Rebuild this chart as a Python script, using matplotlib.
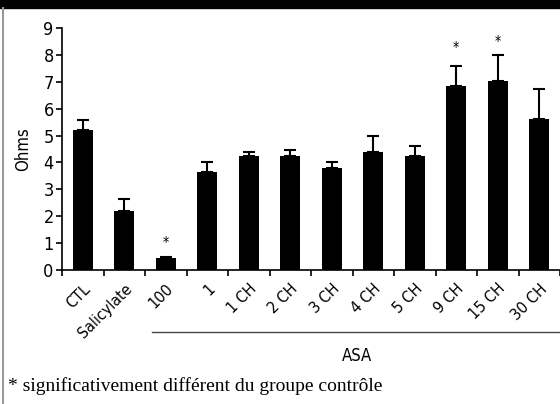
import numpy as np
import matplotlib
matplotlib.use("Agg")
import matplotlib.pyplot as plt
from matplotlib.patches import Rectangle

plt.rcParams['font.family'] = ['DejaVu Sans']
plt.rcParams['font.stretch'] = 'condensed'

# groups and values
groups = ["CTL", "Salicylate", "100", "1", "1 CH", "2 CH", "3 CH",
          "4 CH", "5 CH", "9 CH", "15 CH", "30 CH"]
ohms = [5.2, 2.2, 0.45, 3.65, 4.25, 4.25, 3.8, 4.4, 4.25, 6.85, 7.03, 5.6]
sem = [0.38, 0.43, 0.03, 0.35, 0.15, 0.2, 0.2, 0.6, 0.35, 0.75, 0.95, 1.15]
star_groups = ["100", "9 CH", "15 CH"]
star_y = [1.05, 8.3, 8.5]
yticks = list(range(0, 10))

fig = plt.figure(figsize=(5.6, 4.04), dpi=100)

# black band at the top (cropped title) and left border of the scan
fig.patches.append(Rectangle((0, 1 - 8 / 404), 1, 8 / 404, transform=fig.transFigure,
                             color="black", zorder=0))
fig.add_artist(plt.Line2D([3 / 560, 3 / 560], [0, 1 - 8 / 404], transform=fig.transFigure,
                          color="#999999", lw=1.5))

ax = fig.add_axes([62 / 560, 1 - 270 / 404, 1 - 62 / 560, (270 - 28) / 404])
x = np.arange(len(groups))
ax.bar(x, ohms, width=0.48, color="black", zorder=2)
ax.errorbar(x, ohms, yerr=[np.zeros(len(sem)), sem], fmt="none", ecolor="black",
            elinewidth=1.5, capsize=4, capthick=1.5, zorder=1)

for g, sy in zip(star_groups, star_y):
    ax.text(groups.index(g), sy, "*", ha="center", va="center", fontsize=10)

ax.set_xlim(-0.5, 11.44)
ax.set_ylim(0, 9)
ax.set_yticks(yticks)
ax.tick_params(axis="y", labelsize=13, length=4, width=1.2, direction="out", pad=2)
ax.set_xticks(x)
ax.set_xticklabels(groups, rotation=45, ha="right", rotation_mode="anchor", fontsize=11.5)
ax.tick_params(axis="x", which="major", length=0, pad=8)
ax.set_xticks(np.arange(len(groups) + 1) - 0.5, minor=True)
ax.tick_params(axis="x", which="minor", length=4, width=1.2, direction="out")
for s in ["top", "right"]:
    ax.spines[s].set_visible(False)
for s in ["left", "bottom"]:
    ax.spines[s].set_linewidth(1.2)
ax.set_ylabel("Ohms", fontsize=12, labelpad=8)

# ASA bracket line and label
fig.add_artist(plt.Line2D([152 / 560, 1], [1 - 332 / 404, 1 - 332 / 404],
                          transform=fig.transFigure, color="#444444", lw=1))
fig.text(357 / 560, 1 - 356 / 404, "ASA", ha="center", va="center", fontsize=12)

fig.text(8 / 560, 1 - 386 / 404, "* significativement différent du groupe contrôle",
         ha="left", va="center", fontsize=14, family="Liberation Serif", stretch="normal")

fig.savefig("out.png", dpi=100)
